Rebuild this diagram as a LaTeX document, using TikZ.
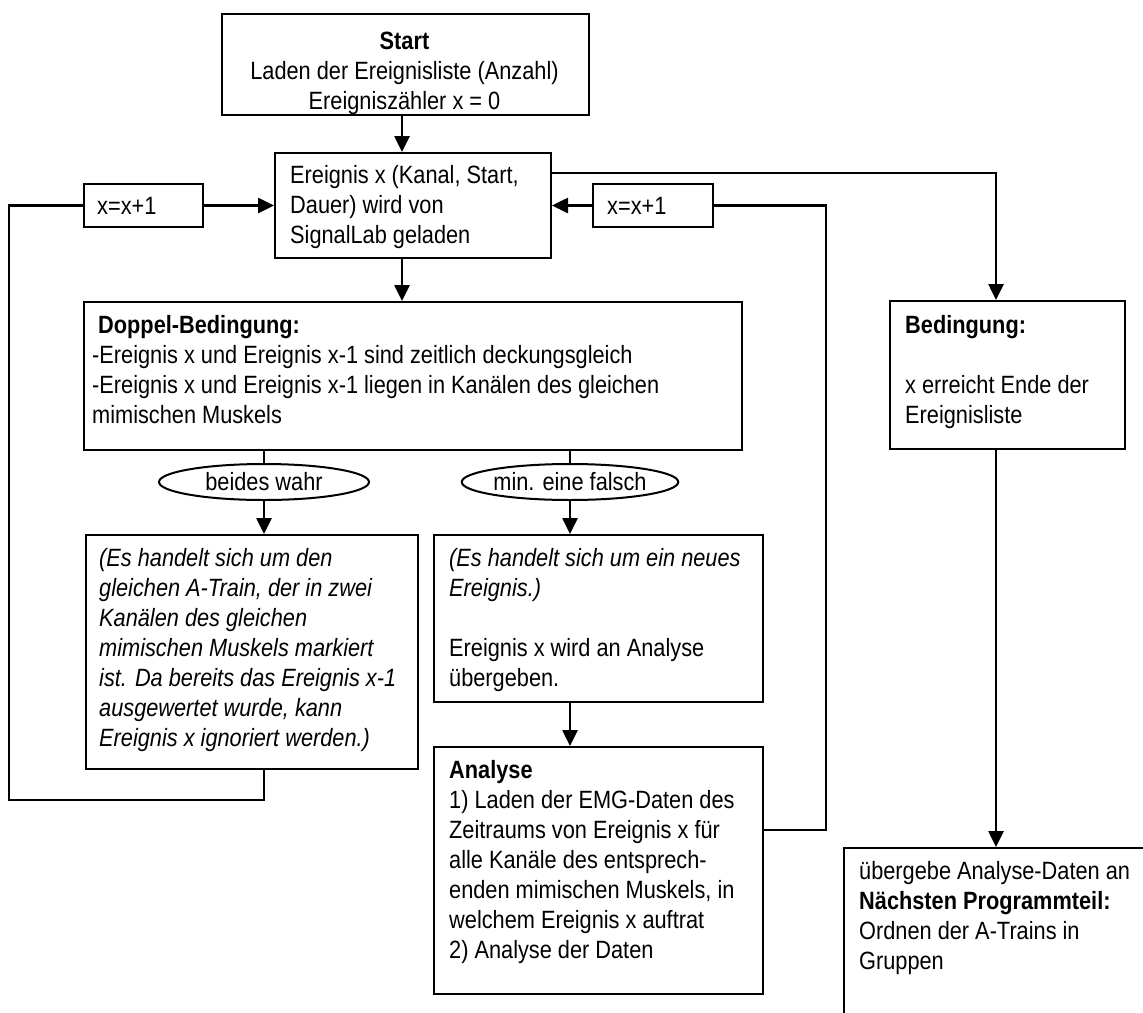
\documentclass[tikz,border=0pt]{standalone}
\usepackage{fontspec}
\setmainfont{Liberation Sans}[FakeStretch=0.87]
\usetikzlibrary{arrows.meta,shapes.geometric,calc}
\newcommand{\firstln}{\rule{0pt}{24pt}}
\begin{document}
\begin{tikzpicture}[x=1pt,y=-1pt,
  box/.style={draw, line width=2pt, rectangle, inner sep=0pt, anchor=north west},
  oval/.style={draw, line width=2pt, ellipse, inner sep=0pt, minimum width=210pt, minimum height=36pt, font=\fontsize{25}{30}\selectfont},
  txt/.style={anchor=north west, align=left, inner sep=0pt, font=\fontsize{25}{30}\selectfont},
  connline/.style={line width=2.6pt},
  connarr/.style={line width=2.6pt, -{Triangle[length=16pt,width=15pt]}}]
\useasboundingbox (0,0) rectangle (1143,1012);
% boxes
\node[box, minimum width=367pt, minimum height=101pt] (start) at (221,13) {};
\node[box, minimum width=276pt, minimum height=105pt] (ev) at (274,152) {};
\node[box, minimum width=119pt, minimum height=43pt] (xl) at (83,183) {};
\node[box, minimum width=120pt, minimum height=43pt] (xr) at (592,183) {};
\node[box, minimum width=658pt, minimum height=148pt] (db) at (83,301) {};
\node[box, minimum width=235pt, minimum height=148pt] (bed) at (889,300) {};
\node[box, minimum width=332pt, minimum height=234pt] (lb) at (85,534) {};
\node[box, minimum width=329pt, minimum height=167pt] (mb) at (433,534) {};
\node[box, minimum width=329pt, minimum height=247pt] (an) at (433,746) {};
\node[box, minimum width=400pt, minimum height=300pt] (nx) at (843,847) {};
\node[oval] (e1) at (264,482) {beides wahr};
\node[oval] (e2) at (570,482) {min. eine falsch};
% texts
\begin{scope}
\clip (start.south west) rectangle (start.north east);
\node[txt, anchor=north, align=center] (tstart) at (404.5,25) {\firstln\textbf{Start}\\Laden der Ereignisliste (Anzahl)\\Ereigniszähler x = 0};
\end{scope}
\node[txt] (tev) at (290,159) {\firstln Ereignis x (Kanal, Start,\\Dauer) wird von\\SignalLab geladen};
\node[txt, anchor=base west] (txl) at (97,214) {x=x+1};
\node[txt, anchor=base west] (txr) at (607,214) {x=x+1};
\node[txt] (tdb) at (92,309) {\firstln\hspace{6pt}\textbf{Doppel-Bedingung:}\\-Ereignis x und Ereignis x-1 sind zeitlich deckungsgleich\\-Ereignis x und Ereignis x-1 liegen in Kanälen des gleichen\\mimischen Muskels};
\node[txt] (tbed) at (905,309) {\firstln\textbf{Bedingung:}\\[30pt]x erreicht Ende der\\Ereignisliste};
\node[txt, font=\fontsize{25}{30}\selectfont\itshape] (tlb) at (99,542) {\firstln(Es handelt sich um den\\gleichen A-Train, der in zwei\\Kanälen des gleichen\\mimischen Muskels markiert\\ist. Da bereits das Ereignis x-1\\ausgewertet wurde, kann\\Ereignis x ignoriert werden.)};
\node[txt] (tmb) at (449,542) {\firstln\textit{(Es handelt sich um ein neues}\\\textit{Ereignis.)}\\[30pt]Ereignis x wird an Analyse\\übergeben.};
\node[txt] (tan) at (449,754) {\firstln\textbf{Analyse}\\1) Laden der EMG-Daten des\\Zeitraums von Ereignis x für\\alle Kanäle des entsprech-\\enden mimischen Muskels, in\\welchem Ereignis x auftrat\\2) Analyse der Daten};
\node[txt] (tnx) at (859,855) {\firstln übergebe Analyse-Daten an\\\textbf{Nächsten Programmteil:}\\Ordnen der A-Trains in\\Gruppen};
% helper coordinates
\coordinate (a1) at (402,0);
\coordinate (a4) at (996,0);
\coordinate (t1) at (0,173);
\coordinate (lc) at (9,800);
\coordinate (rc) at (826,830);
% connectors
\draw[connarr] (start.south -| a1) -- (ev.north -| a1);
\draw[connarr] (ev.south -| a1) -- (db.north -| a1);
\draw[connarr] (ev.east |- t1) -| (bed.north -| a4);
\draw[connarr] (bed.south -| a4) -- (nx.north -| a4);
\draw[connline] (db.south -| e1) -- (e1.north);
\draw[connarr] (e1.south) -- (lb.north -| e1);
\draw[connline] (db.south -| e2) -- (e2.north);
\draw[connarr] (e2.south) -- (mb.north -| e2);
\draw[connarr] (mb.south -| e2) -- (an.north -| e2);
\draw[connline] (lb.south -| e1) |- (lc) |- (xl.west);
\draw[connarr] (xl.east) -- (ev.west |- xl.east);
\draw[connline] (an.east |- rc) -- (rc) |- (xr.east);
\draw[connarr] (xr.west) -- (ev.east |- xr.west);
\end{tikzpicture}
\end{document}
